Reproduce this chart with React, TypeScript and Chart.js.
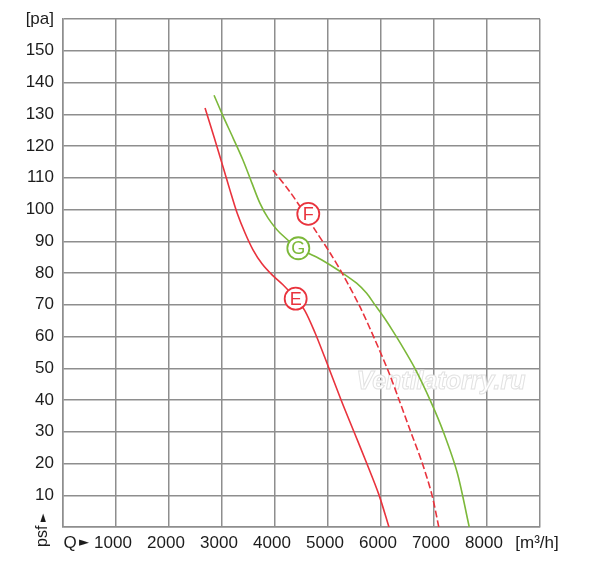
import { useEffect, useRef } from "react"
import { Chart, registerables } from "chart.js"

Chart.register(...registerables)

// Curve E (red, solid): flow [m3/h] and pressure [pa]
const curveEFlow = [2680, 2850, 3020, 3150, 3285, 3435, 3585, 3755, 3945, 4150, 4395, 4565, 4755, 4935, 5245, 5490, 5725, 5960, 6150]
const curveEPress = [132, 122.8, 113.4, 106.1, 98.9, 92.6, 87.3, 82.9, 79.4, 76.3, 71.9, 68.1, 61.2, 53.6, 40.1, 30, 20.3, 10.2, 0]

// Curve F (red, dashed)
const curveFFlow = [3960, 4285, 4565, 4755, 5040, 5285, 5605, 5885, 6150, 6340, 6545, 6775, 6960, 7090]
const curveFPress = [112.4, 105.5, 98.6, 93.6, 86.3, 79.4, 69.3, 59, 48.6, 40.1, 30.7, 20.3, 10.2, 0]

// Curve G (green)
const curveGFlow = [2850, 3020, 3210, 3395, 3565, 3715, 3870, 4095, 4435, 4660, 4885, 5210, 5540, 5730, 5875, 6045, 6210, 6365, 6635, 6950, 7185, 7440, 7665]
const curveGPress = [136, 129.4, 122.5, 115.6, 108.3, 102, 97.3, 92.6, 87.9, 86, 84.1, 80.7, 76.8, 73.6, 70.2, 66.3, 62.1, 57.9, 50.1, 39.1, 29.6, 17, 0]

// Circled curve labels
const markerLetters = ["E", "F", "G"]
const markerFlow = [4390, 4628, 4440]
const markerPress = [71.9, 98.6, 87.8]

const RED = "#e9333d"
const GREEN = "#7cb83a"
const markerColors = [RED, RED, GREEN]
const TEXT = "#1c1c1c"

const FONT = "'Liberation Sans', Arial, sans-serif"

export default function App() {
  const chartRef = useRef<HTMLCanvasElement>(null)
  const chartInstance = useRef<Chart | null>(null)

  useEffect(() => {
    if (!chartRef.current) return
    if (chartInstance.current) chartInstance.current.destroy()

    const toPoints = (q: number[], p: number[]) => q.map((x, i) => ({ x, y: p[i] }))

    const extras = {
      id: "extras",
      beforeDatasetsDraw(chart: any) {
        const { ctx, scales } = chart
        // faint watermark
        ctx.save()
        ctx.font = `italic bold 25px ${FONT}`
        ctx.textAlign = "center"
        ctx.textBaseline = "middle"
        const wx = scales.x.getPixelForValue(7130)
        const wy = scales.y.getPixelForValue(45.5)
        ctx.fillStyle = "#ffffff"
        ctx.fillText("Ventilatorry.ru", wx, wy)
        ctx.strokeStyle = "#e2e2e2"
        ctx.lineWidth = 1
        ctx.strokeText("Ventilatorry.ru", wx, wy)
        ctx.restore()
      },
      afterDraw(chart: any) {
        const { ctx, chartArea } = chart
        ctx.save()
        // letters inside circles
        const meta = chart.getDatasetMeta(0)
        ctx.font = `18px ${FONT}`
        ctx.textAlign = "center"
        ctx.textBaseline = "middle"
        meta.data.forEach((pt: any, i: number) => {
          ctx.fillStyle = markerColors[i]
          ctx.fillText(markerLetters[i], pt.x, pt.y + 1)
        })
        // "Q ►" before the first flow label
        ctx.fillStyle = TEXT
        ctx.font = `17px ${FONT}`
        ctx.fillText("Q", chartArea.left + 7, chartArea.bottom + 16)
        ctx.font = "13px 'DejaVu Sans'"
        ctx.fillText("►", chartArea.left + 21, chartArea.bottom + 16)
        // rotated "psf ►"
        ctx.translate(43, chartArea.bottom + 3)
        ctx.rotate(-Math.PI / 2)
        ctx.textAlign = "left"
        ctx.font = `16px ${FONT}`
        ctx.fillText("psf", -17, 0)
        ctx.font = "11px 'DejaVu Sans'"
        ctx.fillText("►", 8, 0)
        ctx.restore()
      },
    }

    chartInstance.current = new Chart(chartRef.current, {
      type: "scatter",
      data: {
        datasets: [
          {
            label: "markers",
            data: toPoints(markerFlow, markerPress),
            pointRadius: 11,
            pointBorderWidth: 1.8,
            pointBackgroundColor: "#ffffff",
            pointBorderColor: markerColors,
            showLine: false,
            order: 0,
          },
          {
            label: "E",
            data: toPoints(curveEFlow, curveEPress),
            showLine: true,
            borderColor: RED,
            borderWidth: 1.6,
            pointRadius: 0,
            tension: 0.3,
            order: 1,
          },
          {
            label: "F",
            data: toPoints(curveFFlow, curveFPress),
            showLine: true,
            borderColor: RED,
            borderWidth: 1.6,
            borderDash: [7, 3],
            pointRadius: 0,
            tension: 0.3,
            order: 1,
          },
          {
            label: "G",
            data: toPoints(curveGFlow, curveGPress),
            showLine: true,
            borderColor: GREEN,
            borderWidth: 1.6,
            pointRadius: 0,
            tension: 0.3,
            order: 1,
          },
        ],
      },
      options: {
        animation: false,
        responsive: true,
        maintainAspectRatio: false,
        layout: { padding: { left: 0, top: 19, right: 60, bottom: 0 } },
        plugins: {
          legend: { display: false },
          tooltip: { enabled: false },
        },
        scales: {
          x: {
            type: "linear",
            min: 0,
            max: 9000,
            afterFit(scale: any) {
              scale.height = 43
              scale.paddingLeft = 0
              scale.paddingRight = 0
            },
            ticks: {
              stepSize: 1000,
              autoSkip: false,
              maxRotation: 0,
              padding: 6,
              labelOffset: -3,
              color: TEXT,
              font: { family: FONT, size: 17 },
              callback: (v: any) => (v === 0 ? "" : v === 9000 ? "[m³/h]" : String(v)),
            },
            grid: { color: "#8e8e8e", lineWidth: 1.5, drawTicks: false },
            border: { color: "#8e8e8e", width: 1.5 },
          },
          y: {
            type: "linear",
            min: 0,
            max: 160,
            afterFit(scale: any) {
              scale.width = 63
              scale.paddingTop = 0
              scale.paddingBottom = 0
            },
            ticks: {
              stepSize: 10,
              autoSkip: false,
              padding: 9,
              color: TEXT,
              font: { family: FONT, size: 17 },
              callback: (v: any) => (v === 0 ? "" : v === 160 ? "[pa]" : String(v)),
            },
            grid: { color: "#8e8e8e", lineWidth: 1.5, drawTicks: false },
            border: { color: "#8e8e8e", width: 1.5 },
          },
        },
      },
      plugins: [extras],
    } as any)

    return () => {
      if (chartInstance.current) {
        chartInstance.current.destroy()
        chartInstance.current = null
      }
    }
  }, [])

  return (
    <div style={{ position: "absolute", left: 0, top: 0, width: 600, height: 570, background: "#fff" }}>
      <canvas ref={chartRef}></canvas>
    </div>
  )
}
